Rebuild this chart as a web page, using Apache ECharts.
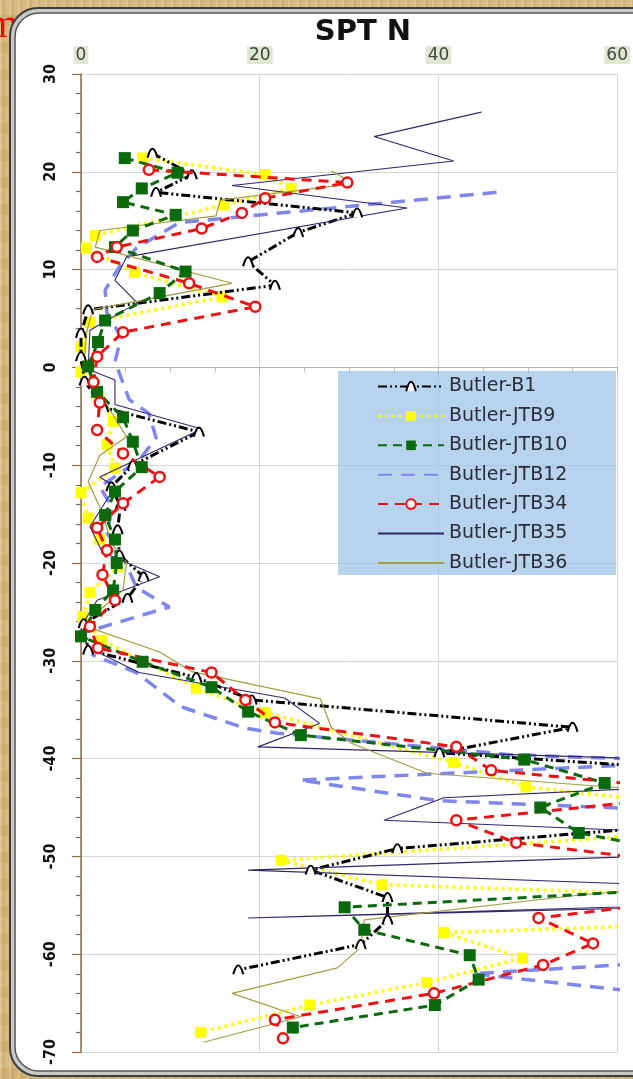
<!DOCTYPE html>
<html><head><meta charset="utf-8">
<style>
html,body{margin:0;padding:0;width:633px;height:1079px;overflow:hidden;}
body{background-color:#d6b57b;
background-image:
repeating-linear-gradient(90deg, rgba(255,245,215,0.16) 0px, rgba(255,245,215,0.16) 2px, rgba(140,95,30,0.08) 2px, rgba(140,95,30,0.08) 5px, rgba(255,255,255,0.0) 5px, rgba(255,255,255,0.0) 9px),
repeating-linear-gradient(0deg, rgba(150,105,40,0.07) 0px, rgba(150,105,40,0.07) 11px, rgba(255,250,230,0.08) 11px, rgba(255,250,230,0.08) 27px);}
#chart{width:633px;height:1079px;}
</style>
<script src="https://cdn.jsdelivr.net/npm/echarts@6/dist/echarts.min.js"></script>
</head><body><div id="chart"></div>
<script>
// ---- data: SPT N value vs elevation ----
const xTicks = [0, 20, 40, 60];
const yTicks = [30, 20, 10, 0, -10, -20, -30, -40, -50, -60, -70];

const b1N    = [8.0, 12.4, 8.4, 30.9, 24.3, 18.7, 21.7, 0.8, 0, 0, 0.4, 2.5, 13.2, 5.8, 3.4, 4.4, 4.1, 4.3, 7.0, 5.2, 0.3, 0.8, 12.9, 19.1, 55.0, 40.1, 83, 85, 67, 35.4, 25.7, 34.3, 34.3, 31.3, 17.6];
const b1Elev = [21.9, 19.7, 17.9, 15.8, 13.8, 10.8, 8.4, 5.9, 3.5, 1.1, -1.4, -4.1, -6.6, -10.0, -12.2, -14.2, -16.6, -19.2, -21.4, -23.6, -26.2, -28.9, -31.7, -34.0, -36.8, -39.4, -42.0, -44.5, -46.8, -49.2, -51.4, -54.2, -56.5, -59.0, -61.6];

const jtb9N    = [6.9, 20.6, 23.5, 16.0, 1.6, 0.6, 6.0, 15.8, 1.0, 0, 0, 2.0, 3.6, 2.9, 3.8, 0, 0.8, 2.1, 4.1, 1.0, 0.2, 2.3, 12.9, 20.6, 41.7, 49.8, 75, 62, 22.4, 33.7, 117, 40.6, 49.4, 38.7, 25.6, 13.4];
const jtb9Elev = [21.4, 19.7, 18.3, 16.6, 13.5, 12.2, 9.7, 7.2, 4.6, 2.1, -0.5, -3.0, -5.5, -7.9, -10.3, -12.8, -15.4, -17.6, -20.4, -23.0, -25.5, -27.9, -32.8, -35.3, -40.4, -42.9, -45.4, -47.9, -50.4, -52.9, -55.4, -57.8, -60.4, -62.9, -65.2, -68.0];

const jtb10N    = [4.9, 10.8, 6.8, 4.7, 10.6, 5.8, 3.8, 11.7, 8.8, 2.7, 1.9, 0.8, 1.8, 4.7, 5.8, 6.8, 3.8, 2.7, 3.8, 4.0, 3.6, 1.6, 0, 6.9, 14.6, 18.7, 24.6, 49.6, 58.6, 51.4, 55.7, 70, 82, 29.5, 31.7, 43.5, 44.5, 39.6, 23.7];
const jtb10Elev = [21.4, 19.9, 18.3, 16.9, 15.6, 14.0, 12.3, 9.8, 7.6, 4.8, 2.6, 0.1, -2.5, -5.1, -7.6, -10.2, -12.7, -15.1, -17.6, -20.0, -22.8, -24.8, -27.5, -30.1, -32.7, -35.2, -37.6, -40.1, -42.5, -45.0, -47.6, -50.1, -52.6, -55.2, -57.5, -60.1, -62.6, -65.2, -67.5];

const jtb12N    = [46.5, 11.0, 6.2, 4.3, 2.7, 2.9, 4.5, 3.8, 5.4, 7.6, 8.4, 6.5, 2.1, 3.5, 2.9, 4.7, 6.2, 9.9, 0, 1.3, 6.2, 11.2, 18.4, 22.0, 48.0, 70, 24.5, 40.0, 75, 80, 43.9, 70];
const jtb12Elev = [17.9, 14.8, 12.2, 10.3, 7.9, 5.6, 3.1, 0.6, -3.3, -4.7, -7.2, -9.5, -12.2, -14.3, -16.9, -19.4, -22.5, -24.5, -27.2, -29.4, -31.2, -34.7, -36.9, -37.4, -39.6, -40.3, -42.2, -44.3, -45.6, -60.0, -62.0, -64.6];

const jtb34N    = [7.6, 29.8, 20.6, 18.0, 13.5, 4.0, 1.8, 12.1, 19.5, 4.7, 1.8, 1.4, 2.1, 1.8, 4.7, 8.8, 4.7, 1.8, 2.9, 2.4, 3.8, 1.0, 1.9, 14.6, 18.4, 21.7, 42.0, 45.9, 72, 42.0, 48.7, 70, 72, 51.2, 57.3, 51.7, 39.5, 21.7, 22.6];
const jtb34Elev = [20.2, 18.9, 17.3, 15.8, 14.2, 12.3, 11.3, 8.6, 6.2, 3.6, 1.1, -1.5, -3.6, -6.4, -8.8, -11.2, -13.9, -16.4, -18.7, -21.2, -23.8, -26.5, -28.7, -31.2, -34.0, -36.3, -38.8, -41.2, -43.5, -46.3, -48.6, -51.0, -54.0, -56.3, -58.9, -61.1, -64.0, -66.7, -68.6];

const jtb35N    = [44.8, 32.8, 41.7, 16.9, 36.5, 5.1, 3.8, 6.3, 1.0, 0.8, 3.8, 3.8, 13.5, 2.1, 3.8, 1.0, 2.4, 8.8, 1.8, 0, 0.7, 6.5, 22.8, 26.7, 19.8, 70, 75, 40.6, 33.9, 100, 18.7, 100, 18.7, 100];
const jtb35Elev = [26.1, 23.6, 21.1, 18.6, 16.3, 11.3, 8.9, 6.6, 3.8, -0.2, -1.3, -3.8, -6.3, -11.2, -12.2, -16.3, -18.9, -21.4, -23.8, -26.5, -28.6, -31.2, -33.8, -36.4, -38.8, -40.2, -42.5, -44.0, -46.3, -48.8, -51.4, -54.1, -56.3, -54.4];

const jtb36N    = [28.0, 30.5, 15.6, 15.1, 2.1, 1.6, 16.9, 1.3, 0.6, 0.4, 1.2, 3.2, 5.1, 2.1, 0.8, 2.4, 3.4, 5.1, 4.7, 2.5, 0, 8.8, 12.4, 26.8, 28.0, 30.2, 38.7, 75, 80, 55.3, 31.7, 31.3, 28.7, 16.9, 24.6, 13.7];
const jtb36Elev = [20.1, 18.8, 17.1, 15.5, 14.0, 12.3, 8.6, 5.9, 3.5, 1.0, -1.6, -4.3, -7.1, -9.0, -11.7, -14.9, -18.0, -19.9, -22.8, -24.5, -26.3, -29.1, -31.1, -33.9, -36.8, -38.4, -41.5, -44.0, -52.0, -54.0, -56.5, -59.3, -61.4, -64.0, -66.4, -69.0];

const seriesNames = ['Butler-B1','Butler-JTB9','Butler-JTB10','Butler-JTB12','Butler-JTB34','Butler-JTB35','Butler-JTB36'];

function pts(n, e){ return n.map(function(v,i){ return [v, e[i]]; }); }

const chart = echarts.init(document.getElementById('chart'), null, {renderer:'canvas'});
const G = {left:81, top:74, right:12, bottom:27};
const noMark = {color:'rgba(0,0,0,0)', borderWidth:0, opacity:0};

const option = {
  animation:false,
  backgroundColor:'transparent',
  title:{text:'SPT N', left:358, top:13, textAlign:'center',
    textStyle:{fontFamily:'"DejaVu Sans", sans-serif', fontWeight:'bold', fontSize:29, color:'#111'}},
  grid:{left:G.left, top:G.top, right:G.right, bottom:G.bottom, containLabel:false},
  legend:{orient:'vertical', left:372, top:372, itemWidth:66, itemHeight:12, itemGap:10.4, z:20,
    data:seriesNames, selectedMode:false,
    textStyle:{fontFamily:'"DejaVu Sans", sans-serif', fontSize:19, color:'#2a2c3a'}},
  graphic:[
    {type:'text', z:-30, left:-13, top:6, style:{text:'m', fill:'#ff0000', font:'40px "Liberation Serif", serif'}},
    {type:'rect', z:-20, shape:{x:10, y:8, width:700, height:1068, r:28}, style:{fill:'#c9c9c9', stroke:'#3e3e3e', lineWidth:2}},
    {type:'rect', z:-19, shape:{x:15, y:13, width:690, height:1058, r:24}, style:{fill:'#ffffff', stroke:'#555', lineWidth:1.5}},
    {type:'rect', z:15, shape:{x:338, y:371, width:278, height:204}, style:{fill:'rgba(150,190,228,0.68)'}}
  ],
  xAxis:{type:'value', position:'top', min:xTicks[0], max:xTicks[xTicks.length-1], interval:20,
    axisLine:{show:true, lineStyle:{color:'#b5b5b5', width:1}},
    axisTick:{show:true, inside:true, length:6, lineStyle:{color:'#b5b5b5'}},
    minorTick:{show:true, splitNumber:4, length:5, lineStyle:{color:'#c2c2c2'}},
    splitLine:{show:true, lineStyle:{color:'#d5d5d5', width:1}},
    axisLabel:{margin:10, fontFamily:'"DejaVu Sans", sans-serif', fontSize:17, color:'#444',
      backgroundColor:'#dfe9d2', padding:[1,2,0,2]}},
  yAxis:{type:'value', min:yTicks[yTicks.length-1], max:yTicks[0], interval:10,
    axisLine:{show:true, onZero:false, lineStyle:{color:'#8a6a48', width:1.5}},
    axisTick:{show:true, length:9, lineStyle:{color:'#8a6a48', width:1.2}},
    minorTick:{show:true, splitNumber:5, length:5, lineStyle:{color:'#8a6a48', width:1.2}},
    splitLine:{show:true, lineStyle:{color:'#d5d5d5', width:1}},
    axisLabel:{rotate:90, margin:22, fontFamily:'"Liberation Sans Narrow", "DejaVu Sans Condensed", sans-serif',
      fontWeight:'bold', fontSize:16, color:'#111'}},
  series:[
    {name:seriesNames[0], type:'line', data:pts(b1N,b1Elev), z:3,
      symbol:'path://M0,10 Q5,-6 10,10', symbolSize:[10,9],
      itemStyle:{color:'#ffffff', borderColor:'#000', borderWidth:2},
      lineStyle:{color:'#000', width:3, type:[9,3,2,3,2,3]}},
    {name:seriesNames[1], type:'line', data:pts(jtb9N,jtb9Elev), z:2,
      symbol:'rect', symbolSize:11,
      itemStyle:{color:'#ffff00'},
      lineStyle:{color:'#ffff00', width:3.5, type:[3,4]}},
    {name:seriesNames[2], type:'line', data:pts(jtb10N,jtb10Elev), z:4,
      symbol:'rect', symbolSize:12,
      itemStyle:{color:'#0b6a0b'},
      lineStyle:{color:'#0b6a0b', width:3, type:[9,6]}},
    {name:seriesNames[3], type:'line', data:pts(jtb12N,jtb12Elev), z:2,
      symbol:'none',
      itemStyle:noMark,
      lineStyle:{color:'#7f87ee', width:3.5, type:[14,9]}},
    {name:seriesNames[4], type:'line', data:pts(jtb34N,jtb34Elev), z:4,
      symbol:'circle', symbolSize:10,
      itemStyle:{color:'#ffffff', borderColor:'#ee1111', borderWidth:2.5},
      lineStyle:{color:'#ee1111', width:3, type:[10,7]}},
    {name:seriesNames[5], type:'line', data:pts(jtb35N,jtb35Elev), z:3,
      symbol:'none',
      itemStyle:noMark,
      lineStyle:{color:'#33256c', width:1.1}},
    {name:seriesNames[6], type:'line', data:pts(jtb36N,jtb36Elev), z:3,
      symbol:'none',
      itemStyle:noMark,
      lineStyle:{color:'#a29c42', width:1.2}}
  ]
};
chart.setOption(option);
</script></body></html>
